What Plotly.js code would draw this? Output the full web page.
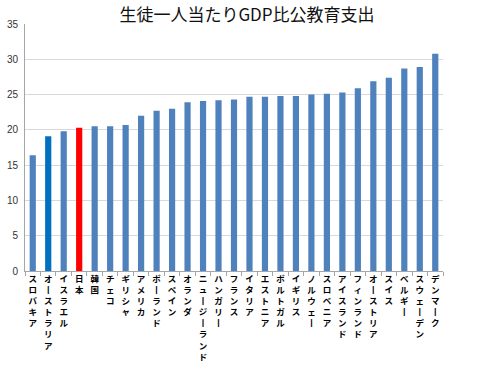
<!DOCTYPE html>
<html><head><meta charset="utf-8">
<script src="https://cdn.plot.ly/plotly-3.0.1.min.js"></script>
<style>html,body{margin:0;padding:0;background:#fff}#c{width:494px;height:370px}</style>
</head><body><div id="c"></div>
<script>
const countries = ["スロバキア","オーストラリア","イスラエル","日本","韓国","チェコ","ギリシャ","アメリカ","ポーランド","スペイン","オランダ","ニュージーランド","ハンガリー","フランス","イタリア","エストニア","ポルトガル","イギリス","ノルウェー","スロベニア","アイスランド","フィンランド","オーストリア","スイス","ベルギー","スウェーデン","デンマーク"];
const values = [16.4,19.1,19.8,20.3,20.5,20.5,20.7,22.0,22.7,23.0,23.9,24.1,24.2,24.3,24.7,24.7,24.8,24.8,25.0,25.1,25.3,25.9,26.9,27.4,28.7,28.9,30.8];
const highlight = {"日本":"#FF0000","オーストラリア":"#0070C0"};
const baseColor = "#4F81BD";
const yTicks = [0,5,10,15,20,25,30,35];

const colors = countries.map(c => highlight[c] || baseColor);
const vertical = countries.map(c => Array.from(c).map(ch => ch === "ー" ? "丨" : ch).join("<br>"));

Plotly.newPlot("c", [{
  type: "bar", x: countries, y: values,
  marker: {color: colors, line: {width: 0}},
  hoverinfo: "none"
}], {
  width: 494, height: 370,
  margin: {l: 25, r: 51, t: 24, b: 99},
  paper_bgcolor: "#fff", plot_bgcolor: "#fff",
  bargap: 0.6,
  showlegend: false,
  title: {text: "生徒一人当たりGDP比公教育支出", x: 0.5, xanchor: "center", y: 0.96, yanchor: "middle",
          font: {family: "Noto Sans CJK JP, sans-serif", size: 17, color: "#111"}},
  xaxis: {
    type: "category", tickvals: countries, ticktext: vertical,
    tickangle: 0, ticks: "outside", ticklen: 4, tickcolor: "#A6A6A6", tickson: "boundaries",
    showline: true, linecolor: "#A6A6A6", linewidth: 1, showgrid: false,
    tickfont: {family: "Noto Sans CJK JP, sans-serif", size: 8.5, color: "#000", weight: "bold"},
    automargin: false
  },
  yaxis: {
    range: [0, 35], tickvals: yTicks, ticktext: yTicks.map(String),
    showgrid: true, gridcolor: "#D9D9D9", gridwidth: 1, zeroline: false,
    showline: true, linecolor: "#A6A6A6", linewidth: 1, ticks: "", 
    tickfont: {family: "Liberation Sans, Arial, sans-serif", size: 10, color: "#333"},
    ticklabelstandoff: 4, automargin: false
  }
}, {staticPlot: true});
</script></body></html>
